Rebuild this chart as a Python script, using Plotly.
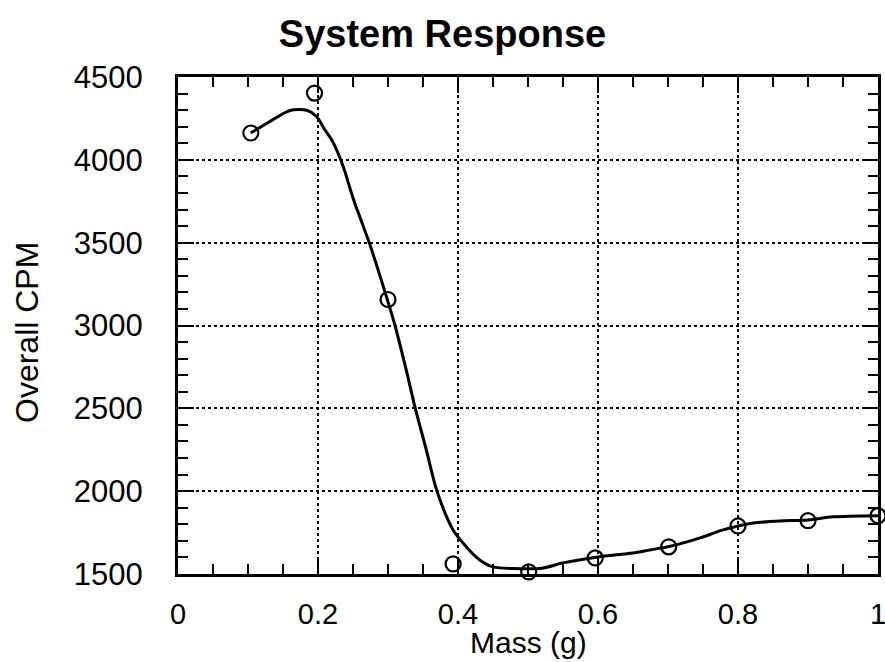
import plotly.graph_objects as go

# measured data points (open circles)
mass_pts = [0.104, 0.195, 0.30, 0.393, 0.501, 0.596, 0.701, 0.80, 0.90, 1.0]
cpm_pts = [4162, 4403, 3157, 1561, 1513, 1597, 1664, 1790, 1822, 1852]

# fitted smooth curve
curve_x = [0.104, 0.13, 0.155, 0.165, 0.185, 0.198, 0.21, 0.221, 0.236, 0.25,
           0.262, 0.274, 0.29, 0.31, 0.325, 0.339, 0.355, 0.37, 0.393, 0.415,
           0.431, 0.45, 0.48, 0.52, 0.55, 0.60, 0.65, 0.674, 0.70, 0.746,
           0.774, 0.80, 0.822, 0.86, 0.90, 0.936, 1.0]
curve_y = [4162, 4228, 4290, 4302, 4298, 4262, 4180, 4110, 3960, 3770,
           3630, 3490, 3280, 3000, 2750, 2500, 2245, 2000, 1766, 1650,
           1585, 1543, 1533, 1535, 1567, 1603, 1627, 1645, 1664, 1718,
           1760, 1790, 1808, 1820, 1826, 1845, 1852]

x_ticks = [0, 0.2, 0.4, 0.6, 0.8, 1]
x_labels = ["0", "0.2", "0.4", "0.6", "0.8", "1"]
y_ticks = [1500, 2000, 2500, 3000, 3500, 4000, 4500]
y_labels = [str(v) for v in y_ticks]

FONT = "Liberation Sans, Arial, Helvetica, sans-serif"

fig = go.Figure()
fig.add_trace(go.Scatter(
    x=curve_x, y=curve_y, mode="lines",
    line=dict(color="black", width=3, shape="spline", smoothing=0.8),
    hoverinfo="skip", showlegend=False))
fig.add_trace(go.Scatter(
    x=mass_pts, y=cpm_pts, mode="markers", cliponaxis=False,
    marker=dict(symbol="circle-open", size=15, color="black",
                line=dict(color="black", width=2.2)),
    showlegend=False))

axis_common = dict(
    showline=True, linecolor="black", linewidth=3, mirror="ticks",
    ticks="inside", ticklen=16, tickwidth=2, tickcolor="black",
    showgrid=True, gridcolor="black", gridwidth=2, griddash="dot",
    zeroline=False, automargin=False, ticklabeloverflow="allow",
)

fig.update_xaxes(
    **axis_common,
    range=[0, 1], tickmode="array", tickvals=x_ticks, ticktext=x_labels,
    minor=dict(dtick=0.05, tick0=0, ticks="inside", ticklen=10, tickwidth=2,
               tickcolor="black", showgrid=False),
    ticklabelstandoff=12,
    tickfont=dict(family=FONT, size=29, color="black"),
)
fig.update_yaxes(
    **axis_common,
    range=[1500, 4500], tickmode="array", tickvals=y_ticks, ticktext=y_labels,
    minor=dict(dtick=100, tick0=1500, ticks="inside", ticklen=10, tickwidth=2,
               tickcolor="black", showgrid=False),
    ticklabelstandoff=26,
    tickfont=dict(family=FONT, size=31, color="black"),
)

fig.update_layout(
    width=885, height=662,
    margin=dict(l=178, r=7, t=77, b=88),
    paper_bgcolor="white", plot_bgcolor="white",
    title=dict(text="System Response", x=0.5, xref="container",
               y=1 - 34 / 662, yref="container", yanchor="middle",
               xanchor="center",
               font=dict(family=FONT, size=38, color="black", weight="bold")),
    annotations=[
        dict(text="Mass (g)", xref="paper", yref="paper",
             x=0.5, y=(574 - 642) / 497, xanchor="center", yanchor="middle",
             showarrow=False,
             font=dict(family=FONT, size=30, color="black")),
        dict(text="Overall CPM", xref="paper", yref="paper",
             x=(27 - 178) / 700, y=(574 - 333) / 497,
             xanchor="center", yanchor="middle", textangle=-90,
             showarrow=False,
             font=dict(family=FONT, size=32, color="black")),
    ],
)

fig.write_html("out.html")
